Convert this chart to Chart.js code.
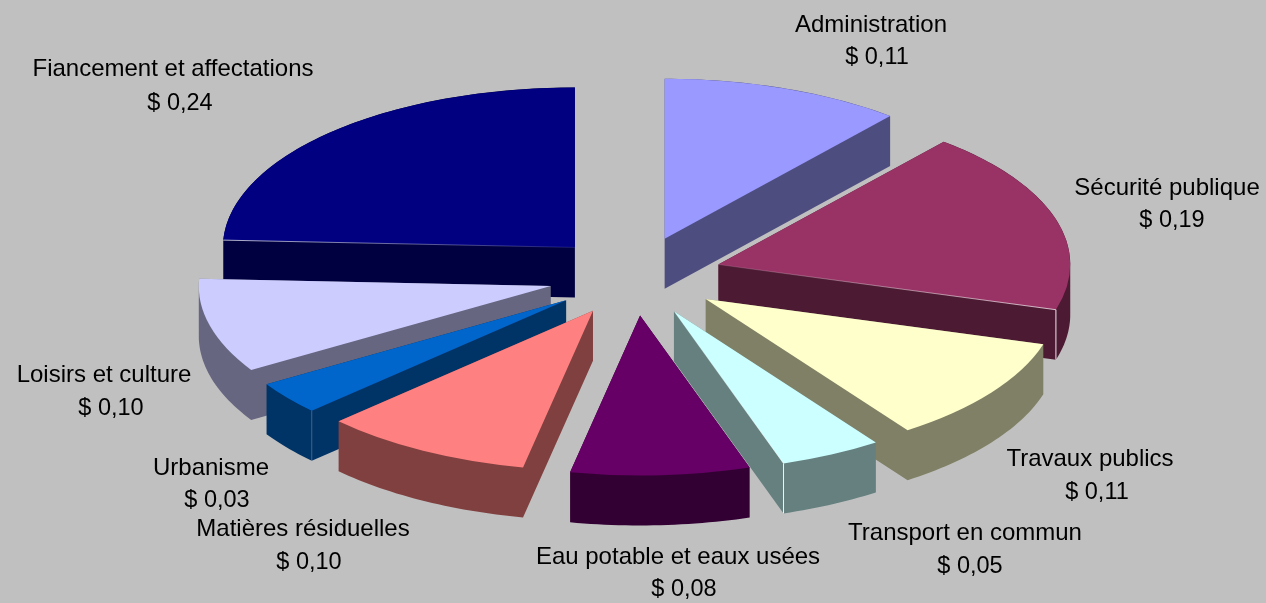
<!DOCTYPE html>
<html><head><meta charset="utf-8">
<style>html,body{margin:0;padding:0;background:#C0C0C0;overflow:hidden}canvas{display:block}</style>
<script src="https://cdn.jsdelivr.net/npm/chart.js@4"></script>
</head><body><canvas id="c" width="1266" height="603"></canvas>
<script>
const categories = ['Administration','Sécurité publique','Travaux publics','Transport en commun','Eau potable et eaux usées','Matières résiduelles','Urbanisme','Loisirs et culture','Fiancement et affectations'];
// the labels show them rounded to two decimals
const values = [0.111,0.1855,0.1075,0.047,0.0825,0.097,0.0336,0.0955,0.2435];
const topColors = ['#9999FF','#993366','#FFFFCC','#CCFFFF','#660066','#FF8080','#0066CC','#CCCCFF','#000080'];
const sideColors = ['#4D4D80','#4D1A33','#808066','#668080','#330033','#804040','#003366','#666680','#000040'];
// centre of the name line, then of the value line, for each label
const labelBoxes = [[871,25,877,58],[1167,188,1172,221],[1090,459,1097,493],[965,533,970,567],[678,557,684,590],[303,529,309,563],[211,468,217,501],[104,375,111,409],[173,69,180,104]];
// thin light seams: slice index, which flat edge, edge opacity, corner opacity
const seams = [[1,'end',0.7,0.9],[3,'end',0.6,0.9],[8,'start',0.7,0],[6,'start',0,0.25]];
const TILT = 160/352, DEPTH = 50, EXPLODE = 87;

// one path for the whole extruded body, every sub-shape wound the same way
function addPoly(ctx,pts){
  let area=0;
  pts.forEach((p,i)=>{const q=pts[(i+1)%pts.length];area+=p[0]*q[1]-q[0]*p[1];});
  const list=area<0?pts.slice().reverse():pts;
  list.forEach((p,i)=>i?ctx.lineTo(p[0],p[1]):ctx.moveTo(p[0],p[1]));
  ctx.closePath();
}
function drawBody(ctx,a,cx,cy,color){
  const steps=Math.max(2,Math.ceil((a.endAngle-a.startAngle)/0.02));
  const pts=[[cx,cy]];
  for(let s=0;s<=steps;s++){
    const t=a.startAngle+(a.endAngle-a.startAngle)*s/steps;
    pts.push([cx+Math.cos(t)*a.outerRadius,cy+Math.sin(t)*a.outerRadius*TILT]);
  }
  ctx.beginPath();
  addPoly(ctx,pts.map(p=>[p[0],p[1]+DEPTH]));
  pts.forEach((p,i)=>{
    const q=pts[(i+1)%pts.length];
    addPoly(ctx,[p,q,[q[0],q[1]+DEPTH],[p[0],p[1]+DEPTH]]);
  });
  addPoly(ctx,pts);
  ctx.fillStyle=color;
  ctx.fill('nonzero');
}

const pie3d = {
  id:'pie3d',
  beforeDatasetDraw(chart,args){
    const ctx = chart.ctx, arcs = args.meta.data;
    const centre = a=>{const m=(a.startAngle+a.endAngle)/2;return [a.x+Math.cos(m)*EXPLODE,a.y+Math.sin(m)*EXPLODE*TILT];};
    const order = arcs.map((a,i)=>i).sort((p,q)=>{
      const m=i=>(arcs[i].startAngle+arcs[i].endAngle)/2;
      return Math.sin(m(p))-Math.sin(m(q));
    });
    for(const i of order){
      const a = arcs[i], [cx,cy]=centre(a);
      drawBody(ctx,a,cx,cy,sideColors[i]);
      ctx.save();
      ctx.translate(cx,cy);
      ctx.scale(1,TILT);
      ctx.translate(-a.x,-a.y);
      a.draw(ctx);
      ctx.restore();
      for(const s of seams){
        if(s[0]!==i) continue;
        const ang = s[1]==='end'?a.endAngle:a.startAngle;
        const ex=cx+Math.cos(ang)*a.outerRadius, ey=cy+Math.sin(ang)*a.outerRadius*TILT;
        ctx.save();ctx.lineWidth=1;
        if(s[2]>0){
          const g=ctx.createLinearGradient(ex,ey,cx,cy);
          g.addColorStop(0,'rgba(255,255,255,'+s[2]+')');
          g.addColorStop(1,'rgba(255,255,255,0.1)');
          ctx.strokeStyle=g;ctx.beginPath();ctx.moveTo(ex,ey);ctx.lineTo(cx,cy);ctx.stroke();
        }
        if(s[3]>0){
          ctx.strokeStyle='rgba(255,255,255,'+s[3]+')';
          ctx.beginPath();ctx.moveTo(ex,ey);ctx.lineTo(ex,ey+DEPTH);ctx.stroke();
        }
        ctx.restore();
      }
    }
    return false;
  },
  afterDraw(chart){
    const ctx=chart.ctx;
    ctx.save();
    ctx.fillStyle='#000';ctx.textAlign='center';ctx.textBaseline='middle';
    categories.forEach((n,i)=>{
      const b=labelBoxes[i];
      ctx.font='24px "Liberation Sans"';
      ctx.fillText(n,b[0],b[1]);
      ctx.font='23.5px "Liberation Sans"';
      ctx.fillText('$ '+values[i].toFixed(2).replace('.',','),b[2],b[3]);
    });
    ctx.restore();
  }
};
new Chart(document.getElementById('c'),{
  type:'pie',
  data:{labels:categories,datasets:[{data:values,backgroundColor:topColors,borderWidth:0,offset:0}]},
  plugins:[pie3d],
  options:{responsive:false,animation:false,radius:352,
    layout:{padding:{left:4,bottom:51}},
    plugins:{legend:{display:false},tooltip:{enabled:false}}}
});
</script></body></html>
